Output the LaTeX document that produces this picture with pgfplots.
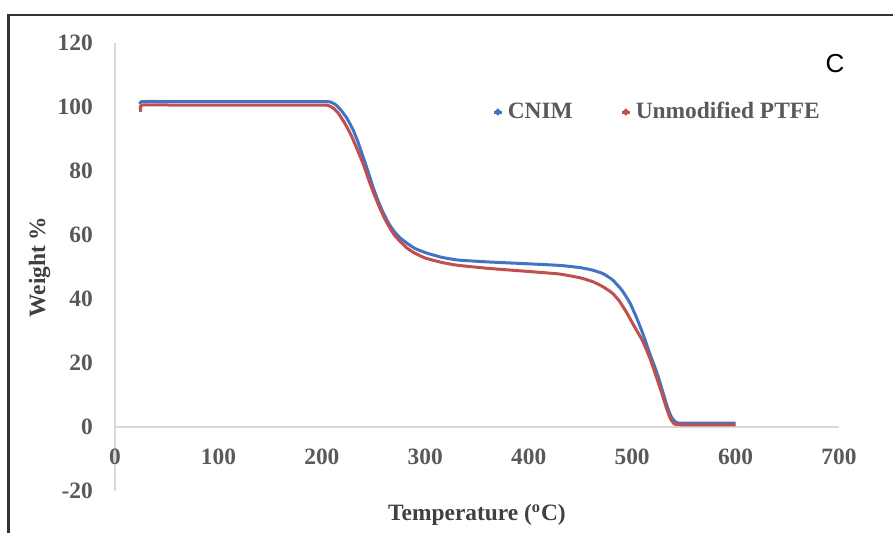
\documentclass[border=0pt]{standalone}
\usepackage{fontspec}
\setmainfont{Liberation Serif}
\newfontfamily\arial{Liberation Sans}
\usepackage{pgfplots}
\pgfplotsset{compat=1.18}

\definecolor{cnim}{RGB}{68,114,196}
\definecolor{ptfe}{RGB}{192,80,77}
\definecolor{ticktext}{RGB}{89,89,89}
\definecolor{labeltext}{RGB}{64,64,64}
\definecolor{axisgray}{RGB}{217,217,217}

\pgfplotstableread{
T W
25 101.0
26 101.7
60 101.7
100 101.7
150 101.7
200 101.7
208 101.6
213 100.8
218 99.2
224 96.6
230 93.0
235 89.0
240 84.3
245 79.5
249 75.4
254 71.0
259 67.2
264 64.0
269 61.5
275 59.3
282 57.5
290 55.8
301 54.4
315 53.1
331 52.2
360 51.6
400 51.0
430 50.5
450 49.8
462 49.0
472 47.9
481 46.0
490 42.8
498 38.7
505 33.6
511 28.6
517 23.0
524 16.9
530 10.6
534 6.3
538 3.1
542 1.6
548 1.2
600 1.2
}\cnimdata

\pgfplotstableread{
T W
25 98.5
26 100.6
60 100.6
100 100.6
150 100.6
200 100.6
206 100.5
211 99.7
216 98.0
222 95.0
228 91.4
234 86.9
240 82.2
245 77.5
250 73.2
255 69.2
260 65.6
265 62.6
270 60.0
276 57.9
282 56.0
290 54.3
300 52.8
315 51.5
330 50.6
360 49.6
400 48.6
430 47.8
450 46.6
462 45.4
472 43.8
481 41.8
488 39.2
495 35.6
502 31.5
510 27.0
517 21.6
522 17.0
528 11.2
533 6.1
537 2.6
541 0.9
548 0.7
600 0.7
}\ptfedata

\begin{document}
\begin{tikzpicture}
\useasboundingbox (0pt,0pt) rectangle (446.5pt,-266pt);
\draw[line width=1.3pt, black!80] (4.3pt,-280pt) -- (4.3pt,-7.5pt) -- (460pt,-7.5pt);
\begin{axis}[
    at={(57.5pt,-245.5pt)}, anchor=south west,
    scale only axis,
    width=362pt, height=224pt,
    xmin=0, xmax=700, ymin=-20, ymax=120,
    xtick={0,100,...,700},
    ytick={-20,0,...,120},
    axis x line*=middle,
    axis y line*=left,
    hide obscured x ticks=false,
    hide obscured y ticks=false,
    axis line style={axisgray, line width=0.9pt},
    major tick length=0pt,
    /pgf/number format/assume math mode=true,
    ticklabel style={font=\fontsize{11.7}{14}\selectfont\bfseries, text=ticktext},
    xticklabel style={yshift=-7.5pt},
    yticklabel style={xshift=-7.6pt},
    xlabel={Temperature (\textsuperscript{o}C)},
    ylabel={Weight \%},
    label style={font=\fontsize{11.7}{14}\selectfont\bfseries, text=labeltext},
    xlabel style={at={(axis description cs:0.5,-0.054)}, anchor=center},
    ylabel style={at={(axis description cs:-0.104,0.5)}, anchor=center},
    legend style={at={(axis description cs:0.513,0.846)}, anchor=west,
        draw=none, fill=none,
        font=\fontsize{11.7}{14}\selectfont\bfseries, text=ticktext},
    legend columns=2,
    /tikz/every even column/.append style={column sep=22pt},
    legend image code/.code={\path (0pt,0pt) -- (4pt,0pt); \fill[#1] (1.8pt,0pt) circle (0.8pt);},
    clip=false,
]
\addplot[cnim, line width=1.5pt, smooth, tension=0.3, no marks] table[x=T, y=W] {\cnimdata};
\addlegendentry{CNIM}
\addplot[ptfe, line width=1.5pt, smooth, tension=0.3, no marks] table[x=T, y=W] {\ptfedata};
\addlegendentry{Unmodified PTFE}
\end{axis}
\node[font=\arial\fontsize{13}{15}\selectfont, anchor=center] at (417.5pt,-32pt) {C};
\end{tikzpicture}
\end{document}
